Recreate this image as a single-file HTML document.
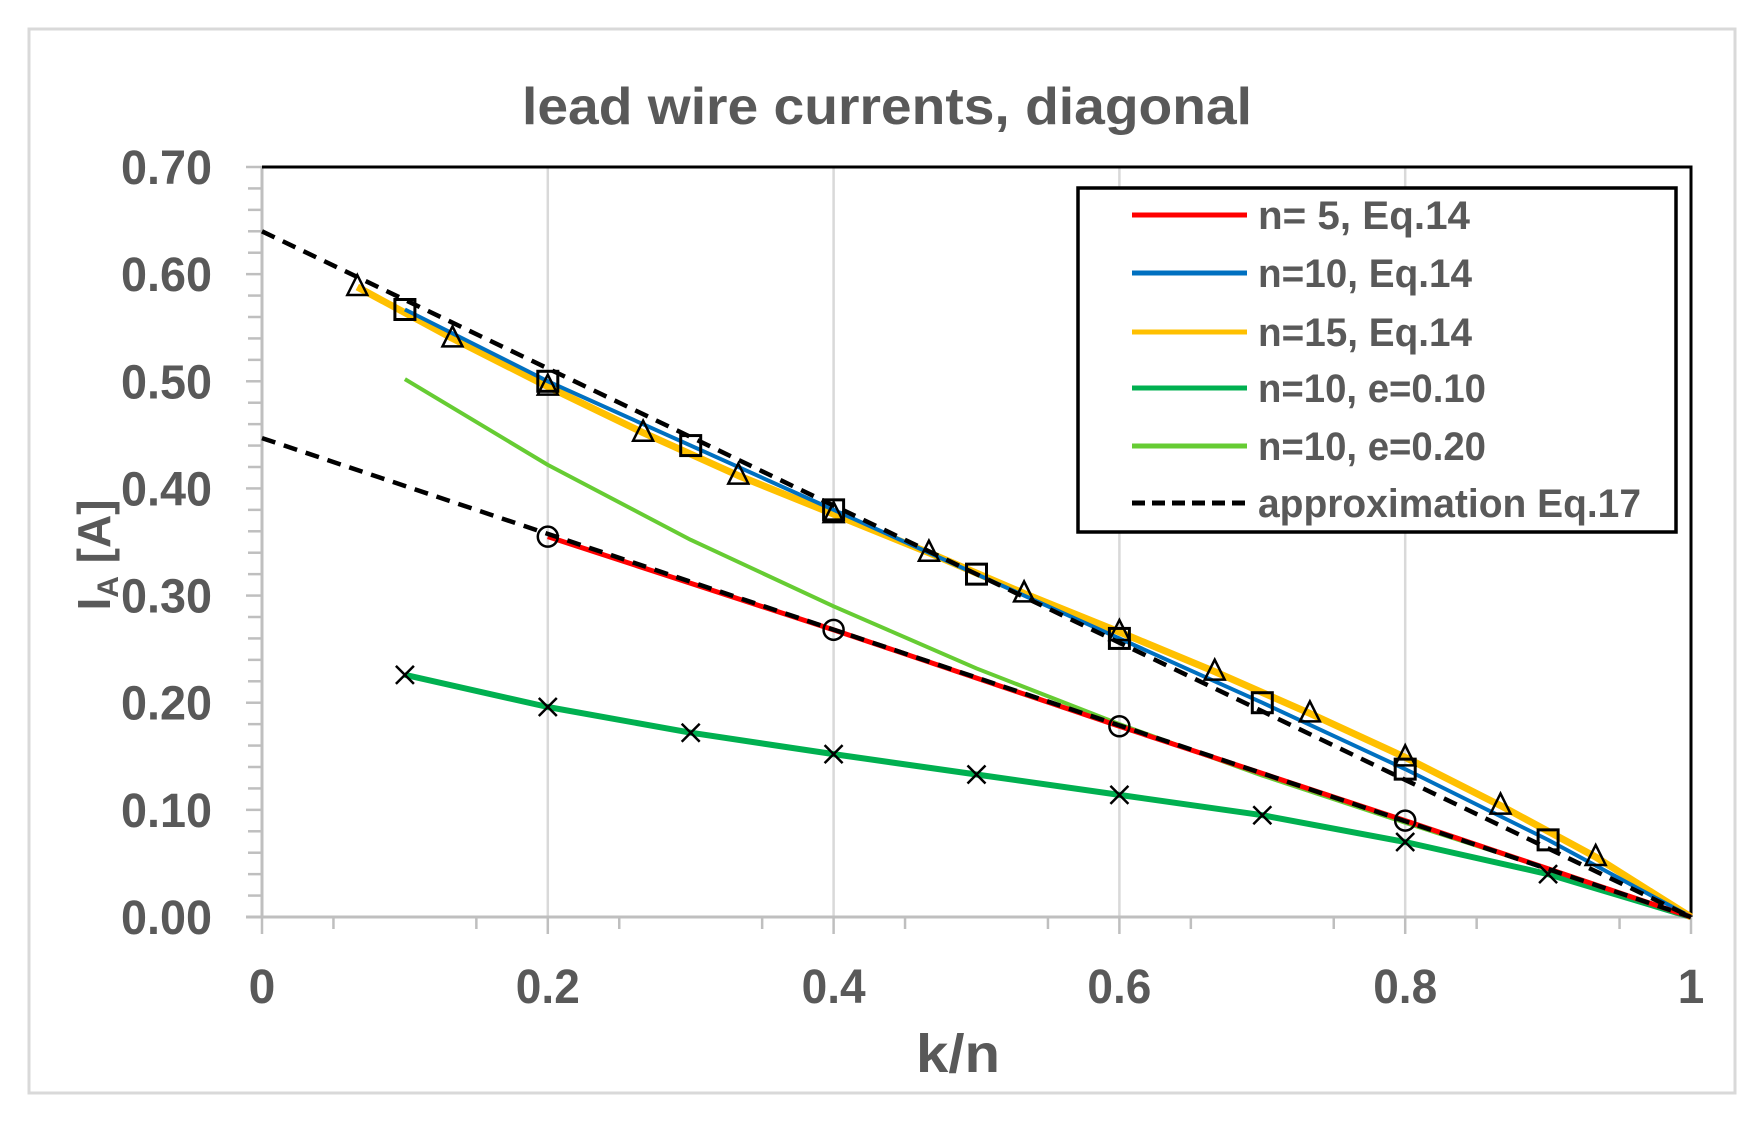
<!DOCTYPE html>
<html><head><meta charset="utf-8"><style>
html,body{margin:0;padding:0;background:#fff;}
svg{display:block;}
text{font-family:"Liberation Sans",sans-serif;font-weight:bold;fill:#595959;}
</style></head><body>
<svg id="chart" width="1757" height="1126" viewBox="0 0 1757 1126" xmlns="http://www.w3.org/2000/svg">
<rect x="29" y="29" width="1706" height="1064" fill="#fff" stroke="#d9d9d9" stroke-width="3"/>
<text x="887" y="124" text-anchor="middle" font-size="52" textLength="730" lengthAdjust="spacingAndGlyphs">lead wire currents, diagonal</text>
<g id="grid"></g>
<g id="axes"></g>
<g id="series"></g>
<g id="markers"></g>
<g id="legend"></g>
</svg>
<script>
const xTicks=[0,0.2,0.4,0.6,0.8,1];
const xTickLabels=["0","0.2","0.4","0.6","0.8","1"];
const yTicks=[0,0.1,0.2,0.3,0.4,0.5,0.6,0.7];
const yTickLabels=["0.00","0.10","0.20","0.30","0.40","0.50","0.60","0.70"];
const n5X=[0.2,0.4,0.6,0.8,1];
const n5Y=[0.355,0.268,0.178,0.09,0];
const n10X=[0.1,0.2,0.3,0.4,0.5,0.6,0.7,0.8,0.9,1];
const n10Y=[0.567,0.5,0.44,0.38,0.32,0.26,0.2,0.138,0.072,0];
const n15X=[0.0667,0.1333,0.2,0.2667,0.3333,0.4,0.4667,0.5333,0.6,0.6667,0.7333,0.8,0.8667,0.9333,1];
const n15Y=[0.588,0.54,0.495,0.452,0.412,0.376,0.34,0.302,0.266,0.229,0.19,0.149,0.104,0.056,0];
const e10X=[0.1,0.2,0.3,0.4,0.5,0.6,0.7,0.8,0.9,1];
const e10Y=[0.226,0.196,0.172,0.152,0.133,0.114,0.095,0.07,0.04,0];
const e20X=[0.1,0.2,0.3,0.4,0.5,0.6,0.7,0.8,0.9,1];
const e20Y=[0.502,0.422,0.352,0.29,0.232,0.18,0.132,0.088,0.045,0];
const approxAX=[0,1];
const approxAY=[0.64,0];
const approxBX=[0,1];
const approxBY=[0.447,0];
const legendLabels=["n= 5,  Eq.14","n=10, Eq.14","n=15, Eq.14","n=10, e=0.10","n=10, e=0.20","approximation Eq.17"];

const NS="http://www.w3.org/2000/svg";
const X0=262,X1=1691,Y0=917,Y1=167;
function sx(v){return X0+(X1-X0)*v;}
function sy(v){return Y0-(Y0-Y1)*v/0.7;}
function mk(tag,attrs,parent){const e=document.createElementNS(NS,tag);for(const k in attrs)e.setAttribute(k,attrs[k]);parent.appendChild(e);return e;}
const grid=document.getElementById('grid'),axes=document.getElementById('axes'),series=document.getElementById('series'),markers=document.getElementById('markers'),legend=document.getElementById('legend');

xTicks.forEach((t,i)=>{
  if(t>0&&t<1){const g=mk('line',{x1:sx(t),x2:sx(t),y1:Y1,y2:Y0,stroke:'#d9d9d9','stroke-width':2.5},grid);
  
  }
  const tk=mk('line',{x1:sx(t),x2:sx(t),y1:Y0,y2:Y0+17,stroke:'#bfbfbf','stroke-width':2.5},axes);
  
  
  const lb=mk('text',{x:sx(t),y:1003,'text-anchor':'middle','font-size':48},axes);
  if(xTickLabels[i].length>1){lb.setAttribute('textLength',64);lb.setAttribute('lengthAdjust','spacingAndGlyphs');}
  lb.textContent=xTickLabels[i];
  
  
});
for(let t=0.05;t<1;t+=0.1){
  const m=mk('line',{x1:sx(t),x2:sx(t),y1:Y0,y2:Y0+12,stroke:'#bfbfbf','stroke-width':2.5},axes);
  
  
}
for(let j=0;j<=35;j++){
  const v=j*0.02;
  const m=mk('line',{x1:X0-(j%5==0?16:14),x2:X0,y1:sy(v),y2:sy(v),stroke:'#bfbfbf','stroke-width':2.5},axes);
  
  
}
yTicks.forEach((t,i)=>{
  const lb=mk('text',{x:212,y:sy(t)+17,'text-anchor':'end','font-size':48,textLength:91,lengthAdjust:'spacingAndGlyphs'},axes);
  lb.textContent=yTickLabels[i];
  
  
});
const ya=mk('line',{x1:X0,x2:X0,y1:Y1,y2:Y0,stroke:'#bfbfbf','stroke-width':3},axes);


const xa=mk('line',{x1:X0-16,x2:X1,y1:Y0,y2:Y0,stroke:'#bfbfbf','stroke-width':3},axes);


const bt=mk('polyline',{points:`${X0},${Y1} ${X1},${Y1} ${X1},${Y0}`,fill:'none',stroke:'#000','stroke-width':3},axes);


const xt=mk('text',{x:958,y:1072,'text-anchor':'middle','font-size':54,textLength:84,lengthAdjust:'spacingAndGlyphs'},axes);
xt.textContent='k/n';


const yt=mk('text',{transform:'translate(110,555) rotate(-90)','text-anchor':'middle','font-size':46},axes);
yt.innerHTML='I<tspan font-size="30" dy="8">A</tspan><tspan dy="-8"> [A]</tspan>';



function line(xs,ys,color,w,name,dash){
  const p=mk('polyline',{points:xs.map((x,i)=>sx(x)+','+sy(ys[i])).join(' '),fill:'none',stroke:color,'stroke-width':w,'stroke-linejoin':'round'},series);
  if(dash)p.setAttribute('stroke-dasharray',dash);
  
  
}
line(e20X,e20Y,'#66cc33',4,'series-n10-e020');
line(e10X,e10Y,'#00b050',6,'series-n10-e010');
line(n15X,n15Y,'#ffc000',7,'series-n15-eq14');
line(n10X,n10Y,'#0070c0',4,'series-n10-eq14');
line(n5X,n5Y,'#ff0000',5,'series-n5-eq14');
line(approxAX,approxAY,'#000',4.5,'series-approx-upper','14 9');
line(approxBX,approxBY,'#000',4.5,'series-approx-lower','14 9');

function marker(kind,x,y,name){
  const cx=sx(x),cy=sy(y);let e;
  if(kind=='circle')e=mk('circle',{cx:cx,cy:cy,r:10,fill:'none',stroke:'#000','stroke-width':2.5},markers);
  else if(kind=='square')e=mk('rect',{x:cx-10,y:cy-10,width:20,height:20,fill:'none',stroke:'#000','stroke-width':3},markers);
  else if(kind=='tri')e=mk('polygon',{points:`${cx},${cy-12} ${cx-10},${cy+8} ${cx+10},${cy+8}`,fill:'none',stroke:'#000','stroke-width':2.5},markers);
  else e=mk('path',{d:`M${cx-9},${cy-9}L${cx+9},${cy+9}M${cx+9},${cy-9}L${cx-9},${cy+9}`,stroke:'#000','stroke-width':2.5},markers);
  
  
}
n5X.forEach((x,i)=>{if(x<1)marker('circle',x,n5Y[i],'marker-n5');});
n10X.forEach((x,i)=>{if(x<1)marker('square',x,n10Y[i],'marker-n10');});
n15X.forEach((x,i)=>{if(x<1)marker('tri',x,n15Y[i],'marker-n15');});
e10X.forEach((x,i)=>{if(x<1)marker('x',x,e10Y[i],'marker-e010');});

const lb=mk('rect',{x:1078,y:188,width:598,height:344,fill:'#fff',stroke:'#000','stroke-width':3.5},legend);


const legColors=['#ff0000','#0070c0','#ffc000','#00b050','#66cc33','#000'];
const legY=[215,273,332,388,446,503];
const legW=[212,214,214,228,228,383];
legendLabels.forEach((t,i)=>{
  const g=mk('g',{},legend);
  
  
  const l=mk('line',{x1:1132,x2:1247,y1:legY[i],y2:legY[i],stroke:legColors[i],'stroke-width':5},g);
  if(i==5)l.setAttribute('stroke-dasharray','13 7');
  
  
  const tx=mk('text',{x:1258,y:legY[i]+14,'font-size':40,textLength:legW[i],lengthAdjust:'spacingAndGlyphs'},g);
  tx.textContent=t;
  
  
});
</script>
</body></html>
